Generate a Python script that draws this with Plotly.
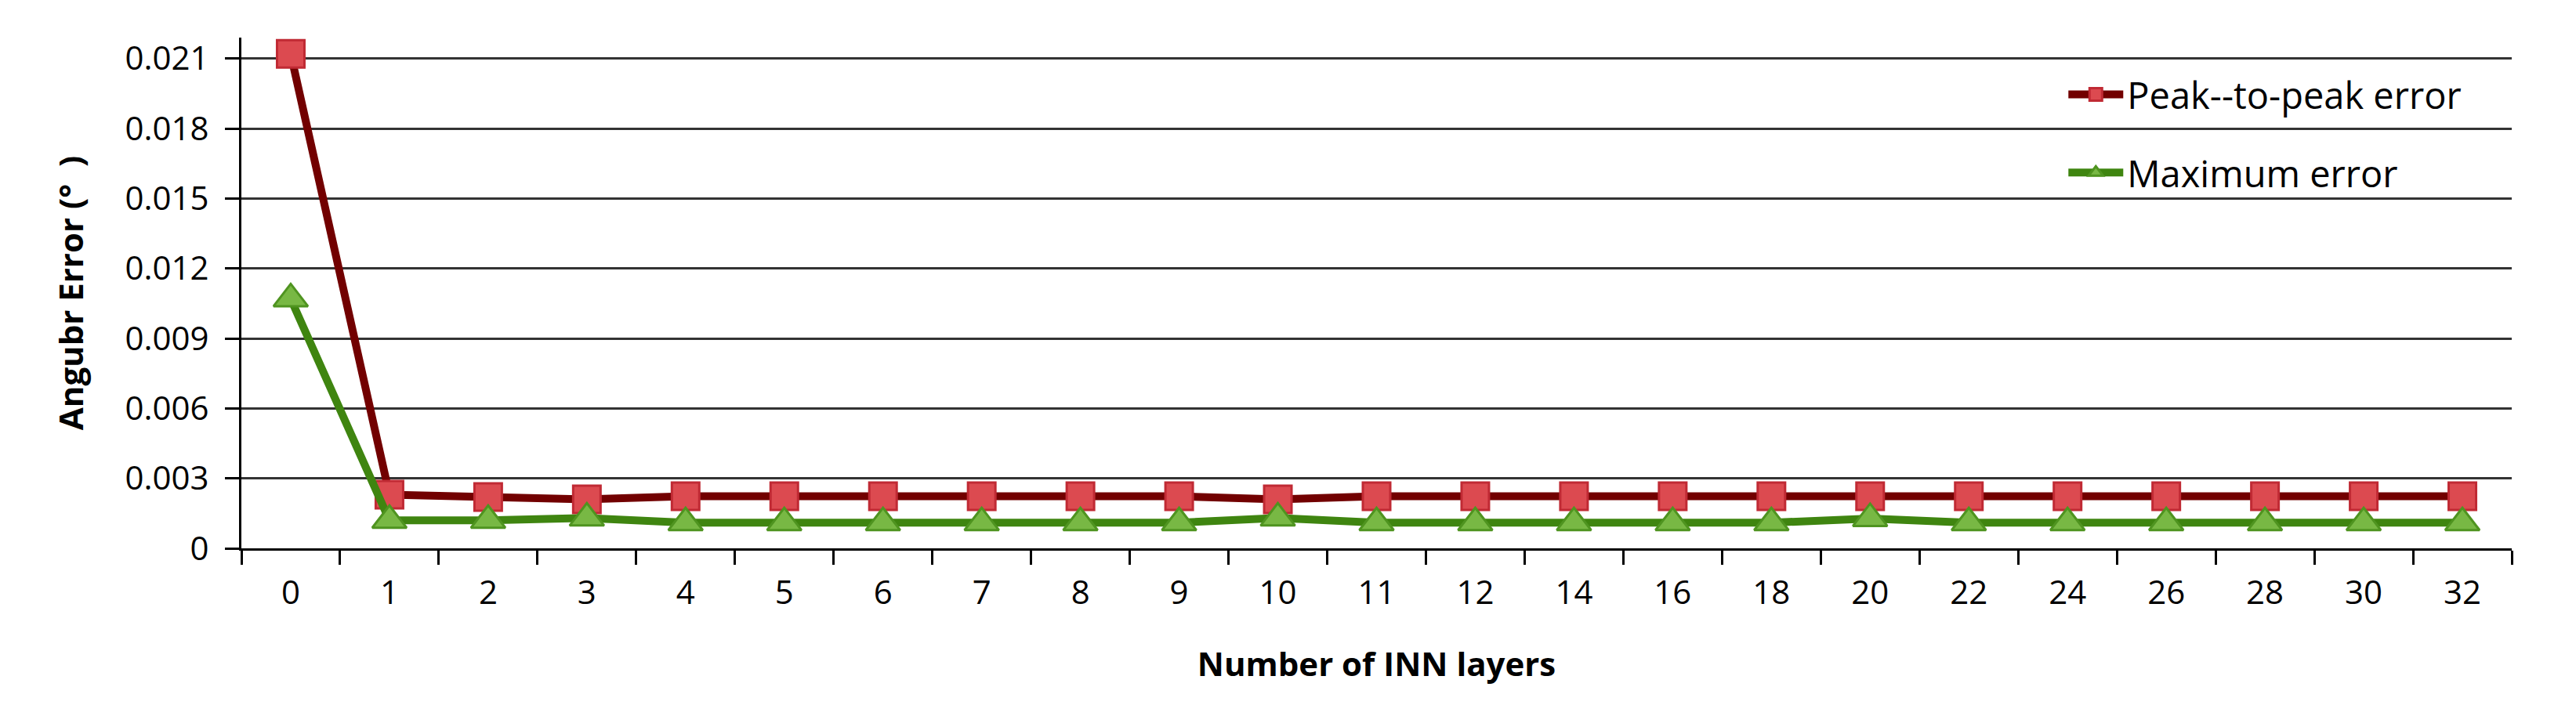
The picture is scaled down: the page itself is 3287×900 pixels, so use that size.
import plotly.graph_objects as go

# ---- data ----
layers = ["0", "1", "2", "3", "4", "5", "6", "7", "8", "9", "10", "11", "12",
          "14", "16", "18", "20", "22", "24", "26", "28", "30", "32"]
peak_to_peak = [0.0212, 0.0023, 0.0022, 0.0021, 0.00223, 0.00223, 0.00223, 0.00223,
                0.00223, 0.00223, 0.0021, 0.00223, 0.00223, 0.00223, 0.00223, 0.00223,
                0.00223, 0.00223, 0.00223, 0.00223, 0.00223, 0.00223, 0.00223]
max_error = [0.0107, 0.0012, 0.0012, 0.0013, 0.0011, 0.0011, 0.0011, 0.0011,
             0.0011, 0.0011, 0.0013, 0.0011, 0.0011, 0.0011, 0.0011, 0.0011,
             0.00128, 0.0011, 0.0011, 0.0011, 0.0011, 0.0011, 0.0011]
y_ticks = [0, 0.003, 0.006, 0.009, 0.012, 0.015, 0.018, 0.021]
y_tick_labels = ["0", "0.003", "0.006", "0.009", "0.012", "0.015", "0.018", "0.021"]
series_names = ["Peak--to-peak error", "Maximum error"]
x_title = "Number of INN layers"
y_title = "Angubr Error (°  )"

FONT = "Open Sans"

fig = go.Figure()
fig.add_trace(go.Scatter(
    x=layers, y=peak_to_peak, name=series_names[0], mode="lines+markers",
    line=dict(color="#720000", width=10),
    marker=dict(symbol="square", size=35, color="#dc4a50",
                line=dict(color="#c02a34", width=3)),
    legend="legend", showlegend=True,
))
fig.add_trace(go.Scatter(
    x=layers, y=max_error, name=series_names[1], mode="lines+markers",
    line=dict(color="#3f8510", width=10),
    marker=dict(symbol="triangle-up", size=38, color="#78b844",
                line=dict(color="#4f9420", width=3)),
    legend="legend2", showlegend=True,
))

fig.update_layout(
    width=3287, height=900, autosize=False,
    showlegend=True,
    margin=dict(l=300, r=90, t=40, b=208),
    paper_bgcolor="white", plot_bgcolor="white",
    font=dict(family=FONT, size=42, color="black"),
    legend=dict(visible=True, x=0.803, y=0.888, xanchor="left", yanchor="middle",
                itemwidth=70,
                bgcolor="rgba(0,0,0,0)", font=dict(size=47, family=FONT)),
    legend2=dict(visible=True, x=0.803, y=0.735, xanchor="left", yanchor="middle",
                 itemwidth=70,
                 bgcolor="rgba(0,0,0,0)", font=dict(size=47, family=FONT)),
)

fig.update_xaxes(
    type="category", categoryorder="array", categoryarray=layers,
    range=[-0.5, len(layers) - 0.5],
    showline=True, linecolor="black", linewidth=3,
    ticks="outside", tickson="boundaries", ticklen=18, tickwidth=3, tickcolor="black",
    ticklabelstandoff=18,
    showgrid=False, zeroline=False,
    tickfont=dict(size=42, family=FONT),
    title=dict(text=f"<b>{x_title}</b>", font=dict(size=42, family=FONT), standoff=52),
)
fig.update_yaxes(
    range=[0, 0.0219], tickvals=y_ticks, ticktext=y_tick_labels,
    showline=True, linecolor="black", linewidth=3,
    ticks="outside", ticklen=18, tickwidth=3, tickcolor="black",
    ticklabelstandoff=12,
    showgrid=True, gridcolor="#333333", gridwidth=3, zeroline=False,
    tickfont=dict(size=42, family=FONT),
    title=dict(text=f"<b>{y_title}</b>", font=dict(size=42, family=FONT), standoff=40),
)

fig.write_html("out.html")
